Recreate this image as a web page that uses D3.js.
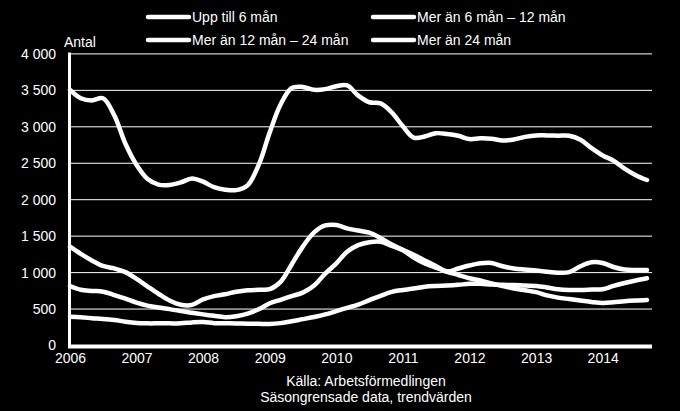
<!DOCTYPE html>
<html>
<head>
<meta charset="utf-8">
<script src="https://cdnjs.cloudflare.com/ajax/libs/d3/7.8.5/d3.min.js"></script>
<style>
  body { margin: 0; background: #000; }
  svg { display: block; background: #000; }
  text { fill: #fff; font-family: "Liberation Sans Narrow", "Arial Narrow", "Liberation Sans", Arial, sans-serif; }
</style>
</head>
<body>
<svg id="canvas"></svg>
<script>
var width = 680,
	height = 411;

// bimonthly points, Jan 2006 .. Sep 2014
var start = new Date(2006, 0, 1),
	end = new Date(2014, 8, 1);
var periods = d3.timeMonth.every(2).range(start, d3.timeMonth.offset(end, 1));

var seriesNames = ["Upp till 6 mån", "Mer än 6 mån – 12 mån", "Mer än 12 mån – 24 mån", "Mer än 24 mån"];

var upTo6 = [3500, 3385, 3355, 3385, 3150, 2760, 2470, 2280, 2200, 2195, 2230, 2285, 2240,
	2165, 2130, 2125, 2190, 2470, 2920, 3300, 3525, 3540, 3500, 3510, 3550, 3560, 3420,
	3330, 3315, 3190, 3000, 2845, 2860, 2905, 2895, 2870, 2825, 2835, 2830, 2805, 2820,
	2855, 2875, 2875, 2872, 2870, 2815, 2700, 2600, 2530, 2420, 2330, 2263];

var m6to12 = [1348, 1250, 1160, 1085, 1050, 1000, 906, 805, 703, 610, 552, 550, 625,
	670, 697, 730, 750, 758, 765, 865, 1105, 1350, 1545, 1640, 1646, 1600, 1570,
	1540, 1465, 1380, 1305, 1238, 1160, 1085, 1008, 1050, 1090, 1120, 1125, 1080, 1050,
	1035, 1022, 1005, 992, 1000, 1080, 1135, 1125, 1070, 1035, 1030, 1029];

var m12to24 = [809, 757, 742, 731, 685, 636, 580, 540, 515, 492, 465, 442, 420,
	400, 382, 395, 430, 490, 572, 620, 670, 718, 815, 980, 1120, 1280, 1370,
	1410, 1417, 1360, 1300, 1200, 1120, 1060, 1005, 960, 915, 885, 845, 810, 775,
	750, 725, 680, 650, 630, 610, 590, 575, 585, 600, 610, 617];

var over24 = [389, 380, 368, 358, 343, 320, 303, 297, 297, 297, 297, 310, 315,
	300, 298, 295, 292, 290, 288, 300, 325, 355, 385, 420, 465, 510, 555,
	615, 675, 728, 755, 775, 800, 810, 815, 825, 840, 840, 830, 825, 822,
	815, 810, 790, 765, 755, 755, 760, 765, 810, 850, 885, 915];

var yTicks = [0, 500, 1000, 1500, 2000, 2500, 3000, 3500, 4000];
var yearTicks = d3.range(2006, 2015).map(function(y){ return new Date(y, 0, 1); });

var allSeries = [upTo6, m6to12, m12to24, over24];

var svg = d3.select("#canvas")
	.attr("width", width)
	.attr("height", height);

var x = d3.scaleTime()
	.domain([start, end])
	.range([70, 647]);

var y = d3.scaleLinear()
	.domain([0, 4000])
	.range([345, 53.4]);

var sv = d3.formatLocale({ decimal: ",", thousands: " ", grouping: [3], currency: ["", " kr"] });
var fmt = sv.format(",d");

// gridlines
svg.append("g")
	.call(d3.axisLeft(y).tickValues(yTicks.slice(1)).tickSize(-582).tickFormat(""))
	.call(function(g){
		g.select(".domain").remove();
		g.selectAll("line").attr("transform", "translate(70,0)").attr("stroke", "#fff").attr("stroke-width", 1);
	});

// y labels
svg.append("g")
	.attr("transform", "translate(70,0)")
	.call(d3.axisLeft(y).tickValues(yTicks).tickSize(0).tickPadding(14).tickFormat(fmt))
	.call(function(g){
		g.select(".domain").remove();
		g.selectAll("text").attr("font-size", 14).attr("fill", "#fff").attr("dy", "0.35em");
	});

// x labels
svg.append("g")
	.attr("transform", "translate(0,346)")
	.call(d3.axisBottom(x).tickValues(yearTicks).tickSize(0).tickPadding(7).tickFormat(d3.timeFormat("%Y")))
	.call(function(g){
		g.select(".domain").remove();
		g.selectAll("text").attr("font-size", 14).attr("fill", "#fff");
	});

// axis lines
svg.append("line")
	.attr("x1", 69.5).attr("x2", 69.5)
	.attr("y1", y(4000) - 1).attr("y2", 348)
	.attr("stroke", "#fff").attr("stroke-width", 3);
svg.append("line")
	.attr("x1", 68).attr("x2", 652)
	.attr("y1", 346.5).attr("y2", 346.5)
	.attr("stroke", "#fff").attr("stroke-width", 4);

var line = d3.line()
	.x(function(d, i){ return x(periods[i]); })
	.y(function(d){ return y(d); })
	.curve(d3.curveCatmullRom.alpha(0.5));

svg.selectAll("path.series")
	.data(allSeries)
	.enter()
	.append("path")
	.attr("class", "series")
	.attr("d", line)
	.attr("fill", "none")
	.attr("stroke", "#fff")
	.attr("stroke-width", 4.5)
	.attr("stroke-linecap", "round")
	.attr("stroke-linejoin", "round");

// legend
var legendPos = [[146, 17], [371, 17], [146, 40], [371, 40]];
var legend = svg.selectAll("g.legend")
	.data(seriesNames)
	.enter()
	.append("g")
	.attr("class", "legend")
	.attr("transform", function(d, i){ return "translate(" + legendPos[i][0] + "," + legendPos[i][1] + ")"; });

legend.append("line")
	.attr("x1", 2).attr("x2", 43)
	.attr("stroke", "#fff")
	.attr("stroke-width", 4.5)
	.attr("stroke-linecap", "round");

legend.append("text")
	.attr("x", 46)
	.attr("dy", "0.35em")
	.attr("font-size", 14)
	.text(function(d){ return d; });

svg.append("text")
	.attr("x", 64).attr("y", 47)
	.attr("font-size", 14)
	.text("Antal");

svg.append("text")
	.attr("x", 366).attr("y", 386)
	.attr("text-anchor", "middle")
	.attr("font-size", 14)
	.text("Källa: Arbetsförmedlingen");

svg.append("text")
	.attr("x", 366).attr("y", 402)
	.attr("text-anchor", "middle")
	.attr("font-size", 14)
	.text("Säsongrensade data, trendvärden");
</script>
</body>
</html>
